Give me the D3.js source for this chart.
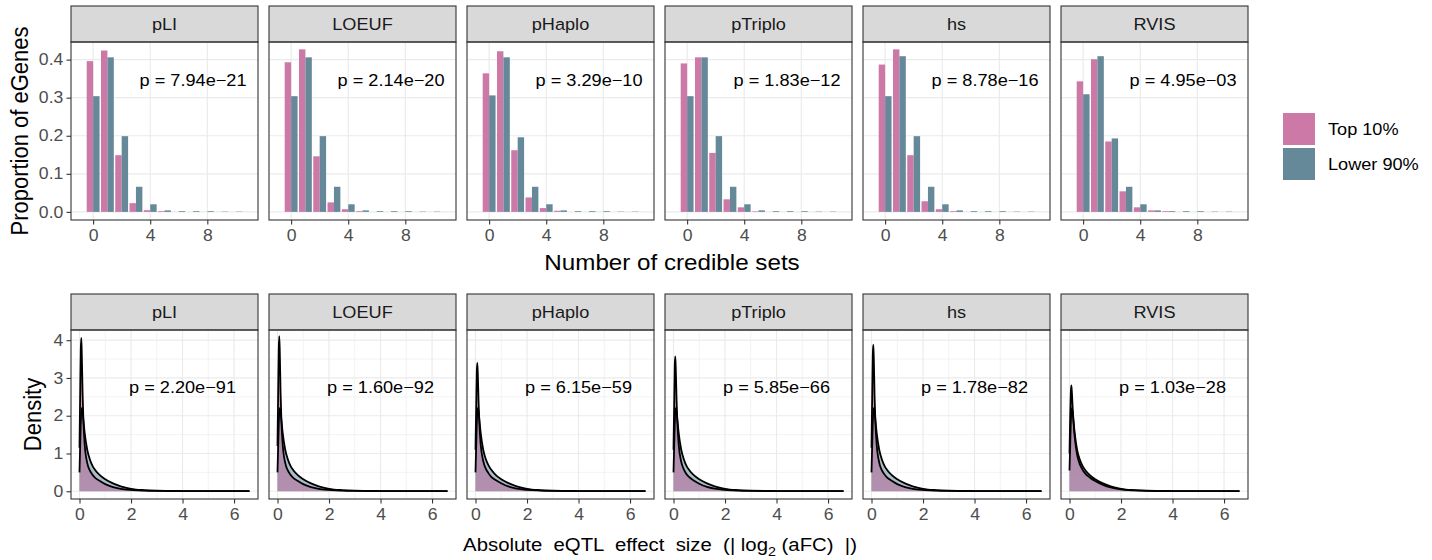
<!DOCTYPE html>
<html>
<head>
<meta charset="utf-8">
<script src="https://cdn.jsdelivr.net/npm/d3@7"></script>
<style>
  body { margin: 0; background: #fff; }
  svg { display: block; }
  text { font-family: "Liberation Sans", Arial, sans-serif; white-space: pre; }
</style>
</head>
<body>
<svg id="chart" width="1432" height="560"></svg>
<script>
// facets and groups
var metrics = ["pLI", "LOEUF", "pHaplo", "pTriplo", "hs", "RVIS"];
var groups = ["Top 10%", "Lower 90%"];
var groupColors = ["#cc79a7", "#66899a"];

// top row: number of credible sets per eGene (proportion)
var credSets = [0, 1, 2, 3, 4, 5, 6, 7, 8, 9, 10];
var propTop = [
  [0.396, 0.424, 0.149, 0.023, 0.0045, 0.002, 0, 0, 0, 0, 0],
  [0.393, 0.427, 0.146, 0.025, 0.007, 0.002, 0, 0, 0, 0, 0],
  [0.364, 0.422, 0.162, 0.038, 0.010, 0.003, 0, 0, 0, 0, 0],
  [0.390, 0.406, 0.155, 0.033, 0.012, 0.0015, 0, 0, 0, 0, 0],
  [0.387, 0.427, 0.149, 0.028, 0.007, 0.002, 0, 0, 0, 0, 0],
  [0.343, 0.401, 0.185, 0.054, 0.012, 0.004, 0.002, 0, 0, 0, 0]
];
var propLower = [
  [0.304, 0.406, 0.199, 0.066, 0.020, 0.004, 0.002, 0.002, 0.002, 0.0008, 0.0008],
  [0.304, 0.406, 0.199, 0.066, 0.020, 0.004, 0.002, 0.002, 0.002, 0.0008, 0.0008],
  [0.306, 0.406, 0.196, 0.066, 0.020, 0.004, 0.002, 0.002, 0.002, 0.0008, 0.0008],
  [0.304, 0.406, 0.199, 0.066, 0.020, 0.004, 0.002, 0.002, 0.002, 0.0008, 0.0008],
  [0.304, 0.409, 0.199, 0.066, 0.020, 0.004, 0.002, 0.002, 0.002, 0.0008, 0.0008],
  [0.309, 0.409, 0.193, 0.066, 0.020, 0.004, 0.002, 0.002, 0.002, 0.0008, 0.0008]
];
var pCred = ["7.94e\u221221", "2.14e\u221220", "3.29e\u221210", "1.83e\u221212", "8.78e\u221216", "4.95e\u221203"];

// bottom row: density of |log2(aFC)|
var densX = [0, 0.03, 0.05, 0.07, 0.09, 0.12, 0.15, 0.2, 0.3, 0.4, 0.5, 0.6, 0.8, 1.0, 1.3, 1.6, 2.0, 2.5, 3.0, 4.0, 5.0, 6.6];
var densTop = [
  [1.15, 2.8, 3.75, 4.06, 3.6, 2.6, 1.9, 1.25, 0.75, 0.55, 0.44, 0.36, 0.27, 0.19, 0.11, 0.065, 0.035, 0.018, 0.01, 0.004, 0.002, 0.001],
  [1.2, 2.85, 3.8, 4.11, 3.65, 2.6, 1.9, 1.25, 0.75, 0.55, 0.44, 0.36, 0.27, 0.19, 0.11, 0.065, 0.035, 0.018, 0.01, 0.004, 0.002, 0.001],
  [1.1, 2.4, 3.15, 3.4, 3.1, 2.35, 1.8, 1.25, 0.8, 0.6, 0.48, 0.39, 0.29, 0.21, 0.12, 0.07, 0.037, 0.019, 0.01, 0.004, 0.002, 0.001],
  [1.1, 2.5, 3.35, 3.57, 3.2, 2.4, 1.82, 1.25, 0.78, 0.58, 0.46, 0.38, 0.28, 0.2, 0.115, 0.068, 0.036, 0.018, 0.01, 0.004, 0.002, 0.001],
  [1.15, 2.7, 3.6, 3.88, 3.5, 2.5, 1.85, 1.25, 0.76, 0.56, 0.45, 0.37, 0.27, 0.19, 0.11, 0.065, 0.035, 0.018, 0.01, 0.004, 0.002, 0.001],
  [1.0, 2.1, 2.6, 2.8, 2.65, 2.25, 1.9, 1.45, 0.95, 0.72, 0.58, 0.48, 0.36, 0.27, 0.17, 0.1, 0.05, 0.024, 0.012, 0.005, 0.002, 0.001]
];
var densLower = [
  [0.5, 1.3, 1.8, 2.1, 2.2, 2.1, 1.9, 1.55, 1.1, 0.85, 0.68, 0.57, 0.42, 0.32, 0.21, 0.13, 0.065, 0.03, 0.015, 0.006, 0.003, 0.002],
  [0.5, 1.3, 1.8, 2.1, 2.2, 2.1, 1.9, 1.55, 1.1, 0.85, 0.68, 0.57, 0.42, 0.32, 0.21, 0.13, 0.065, 0.03, 0.015, 0.006, 0.003, 0.002],
  [0.5, 1.3, 1.8, 2.1, 2.2, 2.1, 1.9, 1.55, 1.1, 0.85, 0.69, 0.58, 0.42, 0.32, 0.21, 0.13, 0.065, 0.03, 0.015, 0.006, 0.003, 0.002],
  [0.5, 1.3, 1.8, 2.1, 2.2, 2.1, 1.9, 1.55, 1.1, 0.85, 0.68, 0.57, 0.42, 0.32, 0.21, 0.13, 0.065, 0.03, 0.015, 0.006, 0.003, 0.002],
  [0.5, 1.3, 1.8, 2.1, 2.2, 2.1, 1.9, 1.55, 1.1, 0.85, 0.68, 0.57, 0.42, 0.32, 0.21, 0.13, 0.065, 0.03, 0.015, 0.006, 0.003, 0.002],
  [0.55, 1.3, 1.8, 2.1, 2.2, 2.1, 1.9, 1.55, 1.08, 0.84, 0.68, 0.57, 0.42, 0.32, 0.21, 0.13, 0.065, 0.03, 0.015, 0.006, 0.003, 0.002]
];
var pAfc = ["2.20e\u221291", "1.60e\u221292", "6.15e\u221259", "5.85e\u221266", "1.78e\u221282", "1.03e\u221228"];

var svg = d3.select("#chart");
var SX = 1.1;       // text in the original is a bit wide
var panelLeft0 = 71, panelStep = 198, panelW = 187;

function addText(x, y, txt, size, anchor, fill, rot) {
  var tf = "translate(" + x + "," + y + ")" + (rot ? " rotate(-90) scale(1," + SX + ")" : " scale(" + SX + ",1)");
  return svg.append("text")
    .attr("transform", tf)
    .attr("text-anchor", anchor || "middle")
    .attr("font-size", size)
    .attr("fill", fill || "#000")
    .text(txt);
}

function styleAxis(g) {
  g.select(".domain").remove();
  g.selectAll(".tick line").attr("stroke", "#333333").attr("stroke-width", 1.1);
  g.selectAll(".tick text").attr("fill", "#4d4d4d").attr("font-size", 16)
    .attr("font-family", "Liberation Sans, Arial, sans-serif")
    .attr("transform", "scale(" + SX + ",1)");
}

function drawPanel(i, top, plotH, x, y, xMajor, xMinor, yMajor, yMinor, name) {
  var left = panelLeft0 + i * panelStep;
  var stripTop = top - 36;
  var g = svg.append("g").attr("transform", "translate(" + left + "," + top + ")");

  // strip
  svg.append("rect").attr("x", left).attr("y", stripTop).attr("width", panelW).attr("height", 36)
    .attr("fill", "#d9d9d9").attr("stroke", "#333333").attr("stroke-width", 1.1);
  addText(left + panelW / 2, stripTop + 24, name, 16.5, "middle", "#1a1a1a");

  // grid
  var grid = g.append("g");
  grid.selectAll(".vmin").data(xMinor).enter().append("line")
    .attr("x1", x).attr("x2", x).attr("y1", 0).attr("y2", plotH)
    .attr("stroke", "#ebebeb").attr("stroke-width", 0.6);
  grid.selectAll(".hmin").data(yMinor).enter().append("line")
    .attr("y1", y).attr("y2", y).attr("x1", 0).attr("x2", panelW)
    .attr("stroke", "#ebebeb").attr("stroke-width", 0.6);
  grid.selectAll(".vmaj").data(xMajor).enter().append("line")
    .attr("x1", x).attr("x2", x).attr("y1", 0).attr("y2", plotH)
    .attr("stroke", "#ebebeb").attr("stroke-width", 1.2);
  grid.selectAll(".hmaj").data(yMajor).enter().append("line")
    .attr("y1", y).attr("y2", y).attr("x1", 0).attr("x2", panelW)
    .attr("stroke", "#ebebeb").attr("stroke-width", 1.2);

  return g;
}

function drawFrame(i, top, plotH) {
  var left = panelLeft0 + i * panelStep;
  svg.append("rect").attr("x", left).attr("y", top).attr("width", panelW).attr("height", plotH)
    .attr("fill", "none").attr("stroke", "#333333").attr("stroke-width", 1.1);
}

// ---------- top row ----------
var topY0 = 42, topH = 178;
var xc = d3.scaleLinear().domain([-1.55, 11.55]).range([0, panelW]);
var yc = d3.scaleLinear().domain([-0.0213, 0.4463]).range([topH, 0]);

metrics.forEach(function(m, i) {
  var g = drawPanel(i, topY0, topH, xc, yc, [0, 4, 8], [], [0, 0.1, 0.2, 0.3, 0.4], [], m);

  var series = [propTop[i], propLower[i]];
  series.forEach(function(vals, s) {
    g.selectAll(".bar" + s).data(credSets.filter(function(c) { return vals[c] > 0; }))
      .enter().append("rect")
      .attr("x", function(c) { return xc(c - 0.45 + s * 0.45); })
      .attr("width", xc(0.45) - xc(0))
      .attr("y", function(c) { return yc(vals[c]); })
      .attr("height", function(c) { return yc(0) - yc(vals[c]); })
      .attr("fill", groupColors[s]);
  });

  var left = panelLeft0 + i * panelStep;
  addText(left + xc(7), topY0 + yc(0.345), "p = " + pCred[i], 16.5, "middle", "#000")
    .attr("dy", "0.35em");

  var ax = svg.append("g").attr("transform", "translate(" + left + "," + (topY0 + topH) + ")")
    .call(d3.axisBottom(xc).tickValues([0, 4, 8]).tickSize(4.5).tickPadding(5.5));
  styleAxis(ax);

  if (i === 0) {
    var ay = svg.append("g").attr("transform", "translate(" + left + "," + topY0 + ")")
      .call(d3.axisLeft(yc).tickValues([0, 0.1, 0.2, 0.3, 0.4]).tickFormat(d3.format(".1f")).tickSize(4.5).tickPadding(2.5));
    styleAxis(ay);
  }
  drawFrame(i, topY0, topH);
});

// ---------- bottom row ----------
var botY0 = 330, botH = 169;
var xd = d3.scaleLinear().domain([-0.33, 6.93]).range([0, panelW]);
var yd = d3.scaleLinear().domain([-0.205, 4.27]).range([botH, 0]);

var area = d3.area()
  .x(function(d) { return xd(d[0]); })
  .y0(yd(0))
  .y1(function(d) { return yd(d[1]); })
  .curve(d3.curveMonotoneX);
var line = d3.line()
  .x(function(d) { return xd(d[0]); })
  .y(function(d) { return yd(d[1]); })
  .curve(d3.curveMonotoneX);

metrics.forEach(function(m, i) {
  var g = drawPanel(i, botY0, botH, xd, yd, [0, 2, 4, 6], [1, 3, 5], [0, 1, 2, 3, 4], [0.5, 1.5, 2.5, 3.5], m);

  var lowerPts = densX.map(function(x, k) { return [x, densLower[i][k]]; });
  var topPts = densX.map(function(x, k) { return [x, densTop[i][k]]; });

  g.append("path").datum(lowerPts).attr("d", area)
    .attr("fill", groupColors[1]).attr("fill-opacity", 0.55);
  g.append("path").datum(topPts).attr("d", area)
    .attr("fill", "#b57aa2").attr("fill-opacity", 0.7);
  [lowerPts, topPts].forEach(function(pts) {
    g.append("path").datum(pts).attr("d", line)
      .attr("fill", "none").attr("stroke", "#000").attr("stroke-width", 1.8)
      .attr("stroke-linejoin", "round");
  });

  var left = panelLeft0 + i * panelStep;
  addText(left + xd(4), botY0 + yd(2.75), "p = " + pAfc[i], 16.5, "middle", "#000")
    .attr("dy", "0.35em");

  var ax = svg.append("g").attr("transform", "translate(" + left + "," + (botY0 + botH) + ")")
    .call(d3.axisBottom(xd).tickValues([0, 2, 4, 6]).tickSize(4.5).tickPadding(5.5));
  styleAxis(ax);

  if (i === 0) {
    var ay = svg.append("g").attr("transform", "translate(" + left + "," + botY0 + ")")
      .call(d3.axisLeft(yd).tickValues([0, 1, 2, 3, 4]).tickFormat(d3.format("d")).tickSize(4.5).tickPadding(2.5));
    styleAxis(ay);
  }
  drawFrame(i, botY0, botH);
});

// ---------- axis titles ----------
addText(20, 131, "Proportion of eGenes", 22, "middle", "#000", true).attr("dy", "0.35em");
addText(33, 414.5, "Density", 22, "middle", "#000", true).attr("dy", "0.35em");
addText(672, 270, "Number of credible sets", 22, "middle", "#000");

var xt = addText(660, 551, "", 18.5, "middle", "#000");
xt.append("tspan").text("Absolute  eQTL  effect  size  (| log");
xt.append("tspan").attr("font-size", 13).attr("dy", 4.5).text("2");
xt.append("tspan").attr("dy", -4.5).text(" (aFC)  |)");

// ---------- legend ----------
var legTop = [113, 148];
groups.forEach(function(gname, s) {
  svg.append("rect").attr("x", 1283).attr("y", legTop[s]).attr("width", 32).attr("height", 32)
    .attr("fill", groupColors[s]);
  addText(1328, legTop[s] + 22, gname, 16.5, "start", "#000");
});
</script>
</body>
</html>
